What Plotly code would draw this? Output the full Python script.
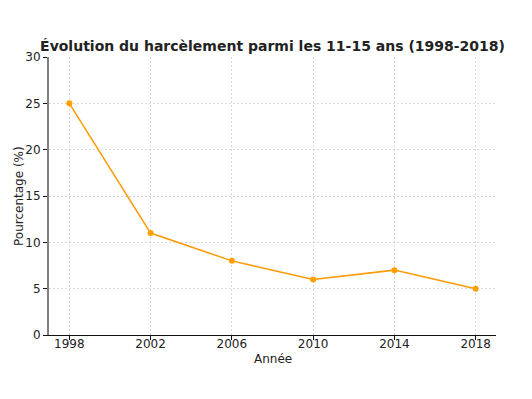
import plotly.graph_objects as go

years = [1998, 2002, 2006, 2010, 2014, 2018]
values = [25, 11, 8, 6, 7, 5]
title = "Évolution du harcèlement parmi les 11-15 ans (1998-2018)"
x_title = "Année"
y_title = "Pourcentage (%)"

# page body has an 8px default margin; compensate in figure margins
OFF = 8
fig = go.Figure()
fig.add_trace(go.Scatter(
    x=years, y=values, mode="lines+markers",
    line=dict(color="#FF9900", width=1.5),
    marker=dict(color="#FFA000", size=6),
))

fig.update_layout(
    width=532, height=399,
    margin=dict(l=49 - OFF, r=532 - 496 + OFF, t=57 - OFF, b=399 - 335 + OFF,
                autoexpand=False),
    paper_bgcolor="white", plot_bgcolor="white",
    font=dict(family="DejaVu Sans", size=12, color="#222"),
    title=dict(text="<b>" + title + "</b>", x=0.5, xref="paper", xanchor="center",
               y=1 - (46 - OFF) / 399, yref="container", yanchor="middle",
               font=dict(family="DejaVu Sans", size=14, color="#222")),
    showlegend=False,
    annotations=[
        dict(text=x_title, xref="paper", yref="paper", x=0.5, y=0,
             xanchor="center", yanchor="middle", yshift=-24, showarrow=False,
             font=dict(size=12, color="#222")),
        dict(text=y_title, xref="paper", yref="paper", x=0, y=0.5,
             xanchor="center", yanchor="middle", xshift=-30, textangle=-90,
             showarrow=False, font=dict(size=12, color="#222")),
    ],
)

fig.update_xaxes(
    range=[1997, 2019], tickvals=years, ticktext=[str(y) for y in years],
    showgrid=True, gridcolor="#d9d9d9", griddash="2px,2px", gridwidth=0.8,
    showline=True, linecolor="#111", linewidth=1.2,
    ticks="outside", ticklen=4, tickcolor="#111",
    ticklabelstandoff=-7,
    zeroline=False,
)
fig.update_yaxes(
    range=[0, 30], tickvals=[0, 5, 10, 15, 20, 25, 30],
    showgrid=True, gridcolor="#d9d9d9", griddash="2px,2px", gridwidth=0.8,
    showline=True, linecolor="#808080", linewidth=2,
    ticks="outside", ticklen=4, tickcolor="#111",
    zeroline=False,
)

fig.write_html("out.html")
